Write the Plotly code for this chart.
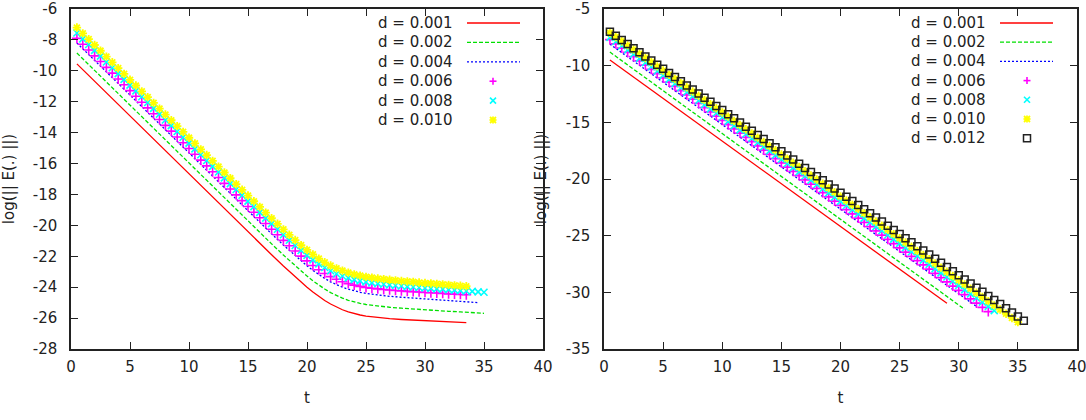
import plotly.graph_objects as go

# ---------------- data ----------------
T_GRID = [0.5, 1.0, 1.5, 2.0, 2.5, 3.0, 3.5, 4.0, 4.5, 5.0,
          5.5, 6.0, 6.5, 7.0, 7.5, 8.0, 8.5, 9.0, 9.5, 10.0,
          10.5, 11.0, 11.5, 12.0, 12.5, 13.0, 13.5, 14.0, 14.5, 15.0,
          15.5, 16.0, 16.5, 17.0, 17.5, 18.0, 18.5, 19.0, 19.5, 20.0,
          20.5, 21.0, 21.5, 22.0, 22.5, 23.0, 23.5, 24.0, 24.5, 25.0,
          25.5, 26.0, 26.5, 27.0, 27.5, 28.0, 28.5, 29.0, 29.5, 30.0,
          30.5, 31.0, 31.5, 32.0, 32.5, 33.0, 33.5, 34.0, 34.5, 35.0, 35.5]

LEFT_LABELS = ["d = 0.001", "d = 0.002", "d = 0.004", "d = 0.006", "d = 0.008", "d = 0.010"]
RIGHT_LABELS = ["d = 0.001", "d = 0.002", "d = 0.004", "d = 0.006", "d = 0.008", "d = 0.010", "d = 0.012"]

# Left panel: lines
L_RED_T = [0.5, 4, 8, 12, 16, 17, 18, 19, 19.5, 20, 20.5, 21, 21.5, 22, 22.5, 23, 23.5, 24, 24.5, 25,
           26, 27, 28, 29, 30, 31, 32, 33.5]
L_RED = [-9.55, -12.18, -15.18, -18.18, -21.18, -21.90, -22.63, -23.34, -23.68, -24.00,
         -24.31, -24.60, -24.86, -25.09, -25.29, -25.46, -25.60, -25.71, -25.80, -25.87,
         -25.97, -26.04, -26.09, -26.13, -26.17, -26.21, -26.24, -26.29]
L_GREEN_T = [0.5, 4, 8, 12, 16, 17, 18, 19, 19.5, 20, 20.5, 21, 21.5, 22, 22.5, 23, 23.5, 24, 24.5, 25,
             26, 27, 28, 29, 30, 31, 32, 33, 34, 35]
L_GREEN = [-8.85, -11.48, -14.48, -17.48, -20.48, -21.20, -21.92, -22.63, -22.96, -23.28,
           -23.59, -23.87, -24.12, -24.35, -24.55, -24.71, -24.85, -24.96, -25.05, -25.12,
           -25.23, -25.30, -25.36, -25.42, -25.47, -25.51, -25.56, -25.60, -25.64, -25.69]
L_BLUE_T = [0.5, 4, 8, 12, 16, 17, 18, 19, 19.5, 20, 20.5, 21, 21.5, 22, 22.5, 23, 23.5, 24, 24.5, 25,
            26, 27, 28, 29, 30, 31, 32, 33, 34, 34.5]
L_BLUE = [-8.20, -10.83, -13.83, -16.83, -19.83, -20.55, -21.27, -21.97, -22.30, -22.62,
          -22.91, -23.19, -23.43, -23.66, -23.84, -24.00, -24.13, -24.24, -24.33, -24.40,
          -24.51, -24.59, -24.65, -24.71, -24.76, -24.82, -24.87, -24.92, -24.97, -25.00]

# Left panel: point series (sampled every 0.5 from t = 0.5)
L_MAGENTA = [-7.90, -8.28, -8.65, -9.03, -9.40, -9.78, -10.15, -10.53, -10.90, -11.28,
             -11.65, -12.03, -12.40, -12.78, -13.15, -13.53, -13.90, -14.28, -14.65, -15.03,
             -15.40, -15.78, -16.15, -16.53, -16.90, -17.28, -17.65, -18.03, -18.40, -18.78,
             -19.15, -19.51, -19.88, -20.25, -20.61, -20.97, -21.32, -21.66, -21.99, -22.30,
             -22.60, -22.87, -23.11, -23.32, -23.49, -23.65, -23.77, -23.87, -23.95, -24.02,
             -24.07, -24.11, -24.15, -24.18, -24.21, -24.24, -24.27, -24.29, -24.31, -24.34,
             -24.36, -24.38, -24.40, -24.43, -24.45, -24.47, -24.49]
L_CYAN = [-7.55, -7.93, -8.30, -8.68, -9.05, -9.43, -9.80, -10.18, -10.55, -10.93,
          -11.30, -11.68, -12.05, -12.43, -12.80, -13.18, -13.55, -13.93, -14.30, -14.68,
          -15.05, -15.43, -15.80, -16.18, -16.55, -16.93, -17.30, -17.68, -18.05, -18.43,
          -18.79, -19.16, -19.53, -19.89, -20.25, -20.61, -20.96, -21.30, -21.63, -21.94,
          -22.23, -22.49, -22.73, -22.94, -23.13, -23.28, -23.40, -23.51, -23.59, -23.66,
          -23.72, -23.77, -23.81, -23.85, -23.89, -23.92, -23.96, -23.99, -24.02, -24.05,
          -24.08, -24.11, -24.13, -24.16, -24.19, -24.22, -24.25, -24.27, -24.30, -24.33]
L_YELLOW = [-7.20, -7.58, -7.95, -8.33, -8.70, -9.08, -9.45, -9.83, -10.20, -10.58,
            -10.95, -11.33, -11.70, -12.08, -12.45, -12.83, -13.20, -13.58, -13.95, -14.33,
            -14.70, -15.08, -15.45, -15.83, -16.20, -16.58, -16.95, -17.33, -17.70, -18.07,
            -18.44, -18.81, -19.18, -19.54, -19.90, -20.26, -20.61, -20.95, -21.28, -21.59,
            -21.88, -22.15, -22.39, -22.60, -22.78, -22.93, -23.06, -23.17, -23.25, -23.33,
            -23.38, -23.44, -23.48, -23.52, -23.56, -23.60, -23.63, -23.66, -23.70, -23.73,
            -23.76, -23.79, -23.82, -23.85, -23.88, -23.91, -23.94]

# Right panel: lines
R_RED_T = [0.5, 5, 10, 15, 20, 25, 29]
R_RED = [-9.50, -12.89, -16.66, -20.43, -24.19, -27.96, -30.97]
R_GREEN_T = [0.5, 5, 10, 15, 20, 25, 30.5]
R_GREEN = [-8.80, -12.21, -15.99, -19.78, -23.56, -27.35, -31.50]
R_BLUE_T = [0.5, 5, 10, 15, 20, 25, 31.5]
R_BLUE = [-8.10, -11.46, -15.20, -18.93, -22.67, -26.40, -31.25]

# Right panel: point series (sampled every 0.5 from t = 0.5)
R_MAGENTA = [-7.70, -8.08, -8.45, -8.83, -9.20, -9.58, -9.95, -10.33, -10.70, -11.08,
             -11.45, -11.83, -12.20, -12.58, -12.95, -13.33, -13.70, -14.08, -14.45, -14.83,
             -15.20, -15.58, -15.95, -16.33, -16.70, -17.08, -17.45, -17.83, -18.20, -18.58,
             -18.95, -19.33, -19.70, -20.08, -20.45, -20.83, -21.20, -21.58, -21.95, -22.33,
             -22.70, -23.08, -23.45, -23.83, -24.20, -24.58, -24.95, -25.33, -25.70, -26.08,
             -26.45, -26.83, -27.20, -27.58, -27.95, -28.33, -28.70, -29.08, -29.45, -29.83,
             -30.20, -30.58, -30.95, -31.33, -31.70]
R_CYAN = [-7.50, -7.87, -8.24, -8.61, -8.98, -9.36, -9.73, -10.10, -10.47, -10.84,
          -11.21, -11.58, -11.95, -12.32, -12.69, -13.07, -13.44, -13.81, -14.18, -14.55,
          -14.92, -15.29, -15.66, -16.03, -16.40, -16.78, -17.15, -17.52, -17.89, -18.26,
          -18.63, -19.00, -19.37, -19.74, -20.11, -20.49, -20.86, -21.23, -21.60, -21.97,
          -22.34, -22.71, -23.08, -23.45, -23.82, -24.20, -24.57, -24.94, -25.31, -25.68,
          -26.05, -26.42, -26.79, -27.16, -27.53, -27.91, -28.28, -28.65, -29.02, -29.39,
          -29.76, -30.13, -30.50, -30.87, -31.24, -31.62]
R_YELLOW = [-7.10, -7.47, -7.84, -8.21, -8.58, -8.95, -9.32, -9.69, -10.06, -10.43,
            -10.80, -11.17, -11.54, -11.91, -12.28, -12.65, -13.02, -13.39, -13.76, -14.13,
            -14.50, -14.87, -15.24, -15.61, -15.98, -16.35, -16.72, -17.09, -17.46, -17.83,
            -18.20, -18.57, -18.94, -19.31, -19.68, -20.05, -20.42, -20.79, -21.16, -21.53,
            -21.90, -22.27, -22.64, -23.01, -23.38, -23.75, -24.12, -24.49, -24.86, -25.23,
            -25.60, -25.97, -26.34, -26.71, -27.08, -27.45, -27.82, -28.19, -28.56, -28.93,
            -29.30, -29.67, -30.04, -30.41, -30.78, -31.15, -31.52, -31.89, -32.26, -32.63]
R_BLACK = [-7.00, -7.36, -7.73, -8.09, -8.46, -8.82, -9.19, -9.55, -9.91, -10.28,
           -10.64, -11.01, -11.37, -11.74, -12.10, -12.46, -12.83, -13.19, -13.56, -13.92,
           -14.29, -14.65, -15.01, -15.38, -15.74, -16.11, -16.47, -16.84, -17.20, -17.56,
           -17.93, -18.29, -18.66, -19.02, -19.39, -19.75, -20.11, -20.48, -20.84, -21.21,
           -21.57, -21.94, -22.30, -22.66, -23.03, -23.39, -23.76, -24.12, -24.49, -24.85,
           -25.22, -25.58, -25.94, -26.31, -26.67, -27.04, -27.40, -27.77, -28.13, -28.49,
           -28.86, -29.22, -29.59, -29.95, -30.32, -30.68, -31.04, -31.41, -31.77, -32.14, -32.50]

X_TICKS = [0, 5, 10, 15, 20, 25, 30, 35, 40]
L_Y_TICKS = [-6, -8, -10, -12, -14, -16, -18, -20, -22, -24, -26, -28]
R_Y_TICKS = [-5, -10, -15, -20, -25, -30, -35]

# ---------------- styling ----------------
RED, GREEN, BLUE = "#ff0000", "#00e000", "#0000ff"
MAGENTA, CYAN, YELLOW, BLACK = "#ff00ff", "#00ffff", "#ffff00", "#222222"
FONT = "DejaVu Sans"
FS = 15
TXT = "#222222"

W, H = 1086, 420
ML, MR, MT, MB = 71, 9, 9, 71
PW, PH = W - ML - MR, H - MT - MB


def px(x):
    return (x - ML) / PW


def py(y):
    return (H - MB - y) / PH


fig = go.Figure()


def add_line(t, v, color, dash, xa, ya):
    fig.add_trace(go.Scatter(x=t, y=v, mode="lines", xaxis=xa, yaxis=ya, showlegend=False,
                             line=dict(color=color, width=1.3, dash=dash)))


def add_pts(v, color, symbol, xa, ya, lw=1.6, size=7):
    fig.add_trace(go.Scatter(x=T_GRID[:len(v)], y=v, mode="markers", xaxis=xa, yaxis=ya,
                             showlegend=False,
                             marker=dict(symbol=symbol, size=size, color=color,
                                         line=dict(color=color, width=lw))))


add_line(L_RED_T, L_RED, RED, "solid", "x", "y")
add_line(L_GREEN_T, L_GREEN, GREEN, "4px,2px", "x", "y")
add_line(L_BLUE_T, L_BLUE, BLUE, "2px,2px", "x", "y")
add_pts(L_MAGENTA, MAGENTA, "cross-thin", "x", "y")
add_pts(L_CYAN, CYAN, "x-thin", "x", "y")
add_pts(L_YELLOW, YELLOW, "asterisk", "x", "y", lw=1.8, size=7)

add_line(R_RED_T, R_RED, RED, "solid", "x2", "y2")
add_line(R_GREEN_T, R_GREEN, GREEN, "4px,2px", "x2", "y2")
add_line(R_BLUE_T, R_BLUE, BLUE, "2px,2px", "x2", "y2")
add_pts(R_MAGENTA, MAGENTA, "cross-thin", "x2", "y2")
add_pts(R_CYAN, CYAN, "x-thin", "x2", "y2")
add_pts(R_YELLOW, YELLOW, "asterisk", "x2", "y2", lw=1.8, size=7)
add_pts(R_BLACK, BLACK, "square-open", "x2", "y2", lw=1.5, size=7)

# ---------------- key (gnuplot style: label left, sample right) ----------------
shapes = []
annotations = []
STYLES = [("line", RED, "solid"), ("line", GREEN, "4px,2px"), ("line", BLUE, "2px,2px"),
          ("plus", MAGENTA, None), ("cross", CYAN, None), ("star", YELLOW, None),
          ("square", BLACK, None)]


def seg(x0, y0, x1, y1, color, width, dash="solid"):
    shapes.append(dict(type="line", xref="paper", yref="paper",
                       x0=px(x0), y0=py(y0), x1=px(x1), y1=py(y1),
                       line=dict(color=color, width=width, dash=dash)))


def key(labels, text_right, line_x0, line_x1, mark_x, row0, row_step):
    for i, lab in enumerate(labels):
        yc = row0 + i * row_step
        annotations.append(dict(text=lab, xref="paper", yref="paper", x=px(text_right), y=py(yc),
                                xanchor="right", yanchor="middle", showarrow=False,
                                font=dict(family=FONT, size=FS, color=TXT)))
        kind, color, dash = STYLES[i]
        r = 3.5
        if kind == "line":
            seg(line_x0, yc, line_x1, yc, color, 1.3, dash)
        elif kind == "plus":
            seg(mark_x - r, yc, mark_x + r, yc, color, 1.6)
            seg(mark_x, yc - r, mark_x, yc + r, color, 1.6)
        elif kind == "cross":
            seg(mark_x - 3, yc - 3, mark_x + 3, yc + 3, color, 1.6)
            seg(mark_x - 3, yc + 3, mark_x + 3, yc - 3, color, 1.6)
        elif kind == "star":
            seg(mark_x - r, yc, mark_x + r, yc, color, 1.8)
            seg(mark_x, yc - r, mark_x, yc + r, color, 1.8)
            seg(mark_x - 3, yc - 3, mark_x + 3, yc + 3, color, 1.8)
            seg(mark_x - 3, yc + 3, mark_x + 3, yc - 3, color, 1.8)
        elif kind == "square":
            shapes.append(dict(type="rect", xref="paper", yref="paper",
                               x0=px(mark_x - r), y0=py(yc + r), x1=px(mark_x + r), y1=py(yc - r),
                               line=dict(color=color, width=1.5)))


key(LEFT_LABELS, 455, 467, 520, 493, 23, 19.4)
key(RIGHT_LABELS, 988, 1000, 1053, 1027, 23, 19.2)

# ---------------- axes ----------------
common_x = dict(range=[0, 40], tickvals=X_TICKS, ticktext=[str(v) for v in X_TICKS],
                ticks="inside", ticklen=7, tickwidth=1,
                tickcolor="#222", mirror="allticks", showline=True, linewidth=1.5, linecolor="#222",
                showgrid=False, zeroline=False, automargin=False, ticklabelstandoff=3,
                ticklabeloverflow="allow",
                tickfont=dict(family=FONT, size=FS, color=TXT),
                title=dict(text="t", standoff=18, font=dict(family=FONT, size=FS, color=TXT)))
common_y = dict(ticks="inside", ticklen=7, tickwidth=1, tickcolor="#222", mirror="allticks",
                showline=True, linewidth=1.5, linecolor="#222", showgrid=False, zeroline=False,
                automargin=False, ticklabelstandoff=9, ticklabeloverflow="allow",
                tickfont=dict(family=FONT, size=FS, color=TXT),
                title=dict(text="log(|| E(.) ||)", standoff=16,
                           font=dict(family=FONT, size=FS, color=TXT)))

fig.update_layout(
    width=W, height=H,
    margin=dict(l=ML, r=MR, t=MT, b=MB),
    paper_bgcolor="white", plot_bgcolor="white",
    showlegend=False,
    xaxis=dict(domain=[0, px(543)], anchor="y", **common_x),
    yaxis=dict(domain=[0, 1], anchor="x", range=[-28, -6], tickvals=L_Y_TICKS,
               ticktext=[str(v) for v in L_Y_TICKS], **common_y),
    xaxis2=dict(domain=[px(604), 1], anchor="y2", **common_x),
    yaxis2=dict(domain=[0, 1], anchor="x2", range=[-35, -5], tickvals=R_Y_TICKS,
                ticktext=[str(v) for v in R_Y_TICKS], **common_y),
    shapes=shapes,
    annotations=annotations,
)

fig.write_html("out.html")
